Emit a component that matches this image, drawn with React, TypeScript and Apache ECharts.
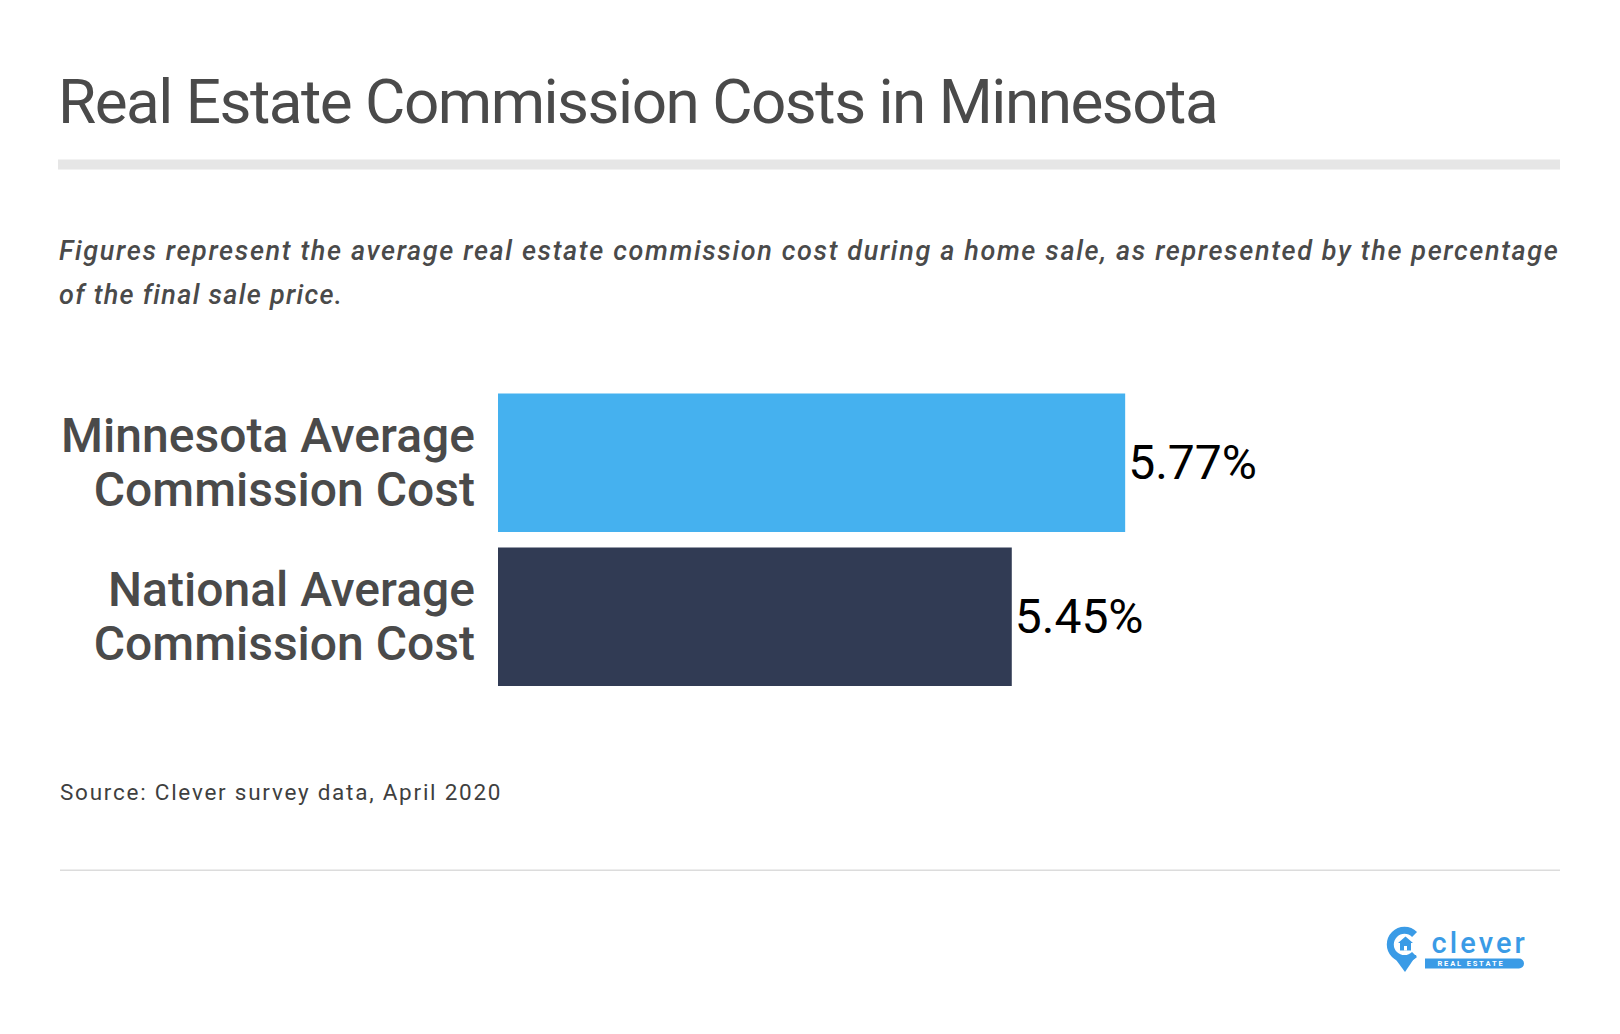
import React, { useEffect, useRef } from "react";
import * as echarts from "echarts";

const titleText = "Real Estate Commission Costs in Minnesota";
const subtitleLines = [
  "Figures represent the average real estate commission cost during a home sale, as represented by the percentage",
  "of the final sale price.",
];
const sourceText = "Source: Clever survey data, April 2020";
const categories = ["Minnesota Average\nCommission Cost", "National Average\nCommission Cost"];
const values = [5.77, 5.45];
const barColors = ["#45b1ef", "#313b54"];
const axisMin = 4;
const axisMax = 7;

const BLUE = "#3a9be6";

export default function App() {
  const ref = useRef<HTMLDivElement>(null);
  useEffect(() => {
    if (!ref.current) return;
    const chart = echarts.init(ref.current, undefined, { renderer: "svg" });
    const font = "Roboto, 'Noto Sans', sans-serif";
    chart.setOption({
      animation: false,
      backgroundColor: "#ffffff",
      grid: { left: 498, right: 59, top: 385.7, bottom: 340.3, containLabel: false },
      xAxis: {
        type: "value",
        min: axisMin,
        max: axisMax,
        show: false,
      },
      yAxis: {
        type: "category",
        inverse: true,
        data: categories,
        axisLine: { show: false },
        axisTick: { show: false },
        splitLine: { show: false },
        axisLabel: {
          fontSize: 48,
          lineHeight: 54,
          fontWeight: 500,
          fontFamily: font,
          color: "#4a4a4a",
          align: "right",
          margin: 23,
        },
      },
      series: [
        {
          type: "bar",
          barCategoryGap: "10%",
          data: values.map((v, i) => ({ value: v, itemStyle: { color: barColors[i] } })),
          label: {
            show: true,
            position: "right",
            distance: 3,
            fontSize: 48,
            fontFamily: font,
            color: "#000000",
            formatter: (p: any) => p.value.toFixed(2) + "%",
          },
        },
      ],
      graphic: [
        {
          type: "text",
          left: 58,
          top: 70,
          style: { text: titleText, font: `400 62px ${font}`, fill: "#4a4a4a" },
        },
        {
          type: "rect",
          shape: { x: 58, y: 159.5, width: 1502, height: 10 },
          style: { fill: "#e6e6e6" },
        },
        {
          type: "text",
          x: 59,
          y: 251,
          style: {
            text: subtitleLines[0],
            font: `italic 500 27px ${font}`,
            fill: "#4a4a4a",
            verticalAlign: "middle",
          },
        },
        {
          type: "text",
          x: 59,
          y: 294.5,
          style: {
            text: subtitleLines[1],
            font: `italic 500 27px ${font}`,
            fill: "#4a4a4a",
            verticalAlign: "middle",
          },
        },
        {
          type: "text",
          x: 60,
          y: 791.5,
          style: {
            text: sourceText,
            font: `400 22.5px ${font}`,
            fill: "#3f3f3f",
            verticalAlign: "middle",
          },
        },
        {
          type: "rect",
          shape: { x: 60, y: 869.5, width: 1500, height: 1.5 },
          style: { fill: "#dcdcdc" },
        },
        // logo
        {
          type: "arc",
          shape: { cx: 1404.5, cy: 944.5, r: 14.2, startAngle: Math.PI / 4, endAngle: (7 * Math.PI) / 4, clockwise: true },
          style: { stroke: BLUE, lineWidth: 7, fill: null },
        },
        {
          type: "polygon",
          shape: { points: [[1392.5, 955], [1416.5, 955], [1405, 972]] },
          style: { fill: BLUE },
        },
        {
          type: "polygon",
          shape: {
            points: [
              [1405.5, 936.5],
              [1413, 943],
              [1411, 943],
              [1411, 950.5],
              [1400, 950.5],
              [1400, 943],
              [1398, 943],
            ],
          },
          style: { fill: BLUE },
        },
        {
          type: "rect",
          shape: { x: 1404, y: 946, width: 3, height: 4.5 },
          style: { fill: "#ffffff" },
        },
        {
          type: "text",
          x: 1431.5,
          y: 942.5,
          style: {
            text: "clever",
            font: `500 29px ${font}`,
            fill: BLUE,
            verticalAlign: "middle",
          },
        },
        {
          type: "rect",
          shape: { x: 1425, y: 958.5, width: 99, height: 10, r: [0, 5, 5, 0] },
          style: { fill: BLUE },
        },
        {
          type: "text",
          x: 1470,
          y: 963.8,
          style: {
            text: "R E A L   E S T A T E",
            font: `700 7.5px ${font}`,
            fill: "#ffffff",
            align: "center",
            verticalAlign: "middle",
          },
        },
      ],
    });

    const spacing: Record<string, number> = {
      [titleText]: -1.5,
      [subtitleLines[0]]: 1.64,
      [subtitleLines[1]]: 1.3,
      [sourceText]: 1.75,
      clever: 3.1,
    };
    const applySpacing = () => {
      if (!ref.current) return;
      ref.current.querySelectorAll("text").forEach((t) => {
        const s = spacing[(t.textContent || "").trim()];
        if (s !== undefined) (t as SVGTextElement).style.letterSpacing = s + "px";
      });
    };
    applySpacing();
    chart.on("finished", applySpacing);
    const t1 = setTimeout(applySpacing, 0);
    const t2 = setTimeout(applySpacing, 200);
    return () => {
      clearTimeout(t1);
      clearTimeout(t2);
      chart.dispose();
    };
  }, []);
  return (
    <div
      ref={ref}
      style={{ position: "fixed", left: 0, top: 0, width: 1620, height: 1034, background: "#fff" }}
    />
  );
}
